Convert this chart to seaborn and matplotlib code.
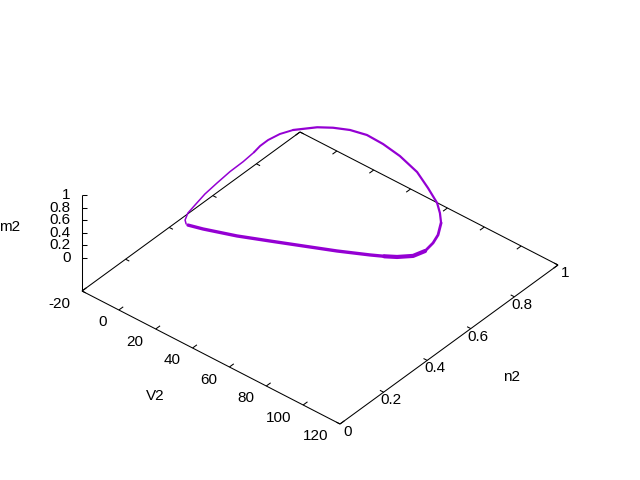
import numpy as np
import pandas as pd
import seaborn as sns
import matplotlib
matplotlib.use("Agg")
import matplotlib.pyplot as plt

### values, one cycle of the orbit

V2 = [1.0, 0.7, 6.7, 20.2, 32.9, 45.3, 58.3, 70.5, 75.6, 80.0, 84.9, 87.4,
      87.8, 87.8, 88.5, 87.4, 85.4, 80.1, 72.4, 61.9, 52.4, 43.9, 36.6,
      30.2, 24.7, 17.7, 14.4, 11.9, 10.3, 9.2, 7.1, 4.5, 2.6, 0.8, -0.3,
      -1.0, -0.5, 1.0]
n2 = [0.300, 0.311, 0.330, 0.371, 0.415, 0.462, 0.508, 0.556, 0.578, 0.600, 0.632, 0.666,
      0.699, 0.722, 0.730, 0.734, 0.738, 0.741, 0.756, 0.766, 0.769, 0.767, 0.751,
      0.727, 0.701, 0.650, 0.617, 0.584, 0.561, 0.542, 0.510, 0.472, 0.428, 0.388, 0.352,
      0.325, 0.308, 0.300]
m2 = [0.10, 0.05, 0.03, 0.02, 0.02, 0.01, 0.01, 0.01, 0.01, 0.01, 0.02, 0.05,
      0.10, 0.17, 0.35, 0.48, 0.60, 0.75, 0.85, 0.92, 0.96, 0.98, 0.99,
      0.99, 0.98, 0.96, 0.93, 0.88, 0.82, 0.75, 0.65, 0.55, 0.45, 0.35, 0.25,
      0.18, 0.12, 0.10]

V_ticks = [-20, 0, 20, 40, 60, 80, 100, 120]
n_ticks = [0, 0.2, 0.4, 0.6, 0.8, 1]
m_ticks = [0, 0.2, 0.4, 0.6, 0.8, 1]

sns.set_theme(style="white")
plt.rcParams["font.family"] = ["Liberation Sans", "DejaVu Sans"]

LINE = "#9400d3"
FS = 11


# same view as splot: view 60,30 on a box, given in screen pixels
def project(v, n, m=None):
    a = (np.asarray(v, dtype=float) + 20) / 140
    n = np.asarray(n, dtype=float)
    sx = 82 + 258 * a + 218 * n
    sy = 291 + 133 * a - 159 * n
    if m is not None:
        sy = sy - 33 - 63 * np.asarray(m, dtype=float)
    return sx, sy


fig = plt.figure(figsize=(6.4, 4.8), dpi=100)
ax = fig.add_axes([0, 0, 1, 1])
ax.set_xlim(0, 640)
ax.set_ylim(480, 0)
ax.axis("off")


def seg(p, q, lw=0.75):
    ax.plot([p[0], q[0]], [p[1], q[1]], color="black", lw=lw, solid_capstyle="butt")


# base of the box
seg(project(-20, 0), project(120, 0))
seg(project(120, 0), project(120, 1))
seg(project(120, 1), project(-20, 1))
seg(project(-20, 1), project(-20, 0))

# z axis
seg((82, 195), (82, 291))
for t in m_ticks:
    y = 258 - 63 * t
    seg((82, y), (86.5, y))
    ax.text(70.5, y, f"{t:g}", ha="right", va="center", fontsize=FS, color="black")

for t in V_ticks:
    seg(project(t, 0), project(t, 0.02))
    seg(project(t, 1), project(t, 0.98))
    x, y = project(t, 0)
    ax.text(x - 12, y + 12.5, f"{t:g}", ha="right", va="center", fontsize=FS, color="black")

for t in n_ticks:
    seg(project(-20, t), project(-18, t))
    seg(project(120, t), project(118, t))
    x, y = project(120, t)
    ax.text(x + 7.5, y + 8, f"{t:g}", ha="center", va="center", fontsize=FS, color="black")

ax.text(10, 227, "m2", ha="center", va="center", fontsize=FS, color="black")
ax.text(155, 396, "V2", ha="center", va="center", fontsize=FS, color="black")
ax.text(512, 377, "n2", ha="center", va="center", fontsize=FS, color="black")

sx, sy = project(V2, n2, m2)
df = pd.DataFrame({"x": sx, "y": sy})

# the orbit piles up along the lower branch, so that part is drawn thicker
parts = [(1, 9, 2.4), (8, 12, 3.0), (11, 15, 2.0), (14, 26, 1.6), (25, 30, 1.4), (29, 38, 1.1)]
for start, end, lw in parts:
    sns.lineplot(data=df.iloc[start:end], x="x", y="y", sort=False, estimator=None,
                 color=LINE, lw=lw, ax=ax, legend=False, solid_joinstyle="round")
ax.set_xlim(0, 640)
ax.set_ylim(480, 0)

plt.savefig("out.png", dpi=100)
